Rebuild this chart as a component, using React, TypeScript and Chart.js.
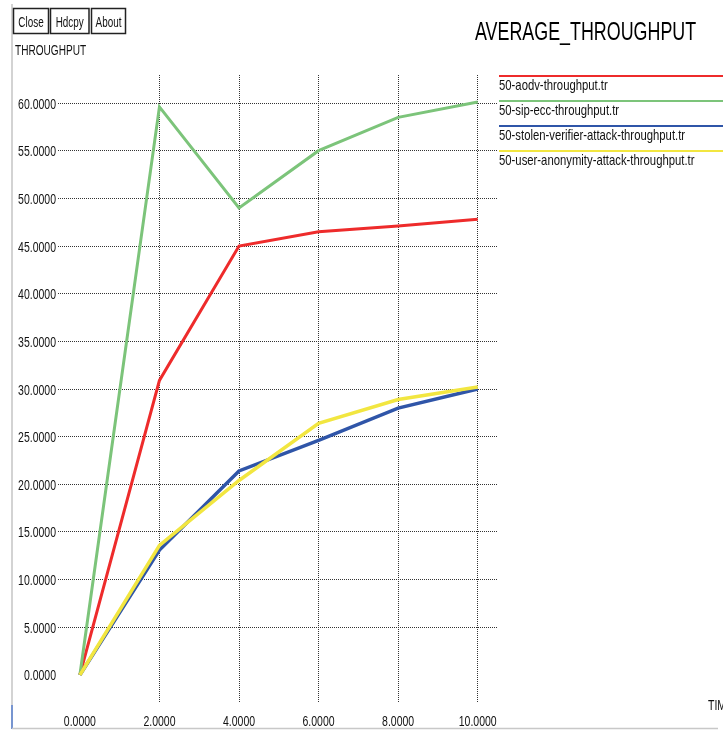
import React, { useEffect, useRef } from "react";
import { Chart, registerables } from "chart.js";

Chart.register(...registerables);

const xValues = [0, 2, 4, 6, 8, 10];
const xTicks = [0, 2, 4, 6, 8, 10];
const yTicks = [0, 5, 10, 15, 20, 25, 30, 35, 40, 45, 50, 55, 60];
const aodv = [0, 30.9, 45.0, 46.5, 47.1, 47.8];
const sipEcc = [0, 59.6, 49.0, 55.0, 58.5, 60.1];
const stolenVerifier = [0, 13.1, 21.4, 24.6, 28.0, 30.0];
const userAnonymity = [0, 13.6, 20.4, 26.4, 28.9, 30.2];
const seriesNames = [
  "50-aodv-throughput.tr",
  "50-sip-ecc-throughput.tr",
  "50-stolen-verifier-attack-throughput.tr",
  "50-user-anonymity-attack-throughput.tr",
];
const seriesColors = ["#ee2b2b", "#7cc47a", "#2f55a8", "#f2e640"];
const buttonLabels = ["Close", "Hdcpy", "About"];
const titleText = "AVERAGE_THROUGHPUT";
const yAxisTitle = "THROUGHPUT";
const xAxisTitle = "TIME";

const FAMILY = '"Liberation Sans", Arial, sans-serif';
const TICK_SIZE = 15;
const TICK_SX = 0.7;

function drawText(
  ctx: CanvasRenderingContext2D,
  text: string,
  x: number,
  y: number,
  size: number,
  align: "left" | "right" | "center",
  sx: number,
  color = "#111"
) {
  ctx.save();
  ctx.font = `${size}px ${FAMILY}`;
  ctx.fillStyle = color;
  ctx.textBaseline = "alphabetic";
  const w = ctx.measureText(text).width * sx;
  let left = x;
  if (align === "right") left = x - w;
  else if (align === "center") left = x - w / 2;
  ctx.translate(left, y);
  ctx.scale(sx, 1);
  ctx.textAlign = "left";
  ctx.fillText(text, 0, 0);
  ctx.restore();
}

const decorPlugin = {
  id: "decor",
  afterDraw(chart: any) {
    const ctx = chart.ctx as CanvasRenderingContext2D;
    ctx.save();
    // frame lines
    ctx.strokeStyle = "#c4c4c4";
    ctx.lineWidth = 1.5;
    ctx.beginPath();
    ctx.moveTo(12, 4);
    ctx.lineTo(12, 705);
    ctx.stroke();
    ctx.strokeStyle = "#4a72c0";
    ctx.beginPath();
    ctx.moveTo(12, 705);
    ctx.lineTo(12, 729);
    ctx.stroke();
    ctx.strokeStyle = "#c8c8c8";
    ctx.beginPath();
    ctx.moveTo(12, 728.5);
    ctx.lineTo(718, 728.5);
    ctx.stroke();

    // buttons
    const boxes = [
      [13.5, 8.5, 35, 25],
      [50.5, 8.5, 38.5, 25],
      [91.5, 8.5, 34, 25],
    ];
    buttonLabels.forEach((lab, i) => {
      const [bx, by, bw, bh] = boxes[i];
      ctx.strokeStyle = "#222";
      ctx.lineWidth = 1.5;
      ctx.strokeRect(bx, by, bw, bh);
      drawText(ctx, lab, bx + bw / 2, 26.5, 15, "center", 0.66);
    });

    // y axis title
    drawText(ctx, yAxisTitle, 15, 55, 14, "left", 0.72);

    // title (condensed)
    drawText(ctx, titleText, 475, 40, 25, "left", 0.715, "#000");

    // legend
    chart.data.datasets.forEach((ds: any, i: number) => {
      const ly = 76 + 25 * i;
      ctx.strokeStyle = ds.borderColor;
      ctx.lineWidth = 2;
      ctx.beginPath();
      ctx.moveTo(499, ly);
      ctx.lineTo(723, ly);
      ctx.stroke();
      drawText(ctx, seriesNames[i], 499, ly + 13.5, 14.5, "left", 0.78);
    });

    // tick labels
    const xs = chart.scales.x;
    const ys = chart.scales.y;
    xTicks.forEach((v) => {
      drawText(ctx, v.toFixed(4), xs.getPixelForValue(v), 726, TICK_SIZE, "center", TICK_SX);
    });
    yTicks.forEach((v) => {
      drawText(ctx, v.toFixed(4), 56, ys.getPixelForValue(v) + 5.5, TICK_SIZE, "right", TICK_SX);
    });

    // x axis title (clipped at window edge)
    drawText(ctx, xAxisTitle, 708, 710, 15, "left", 0.7);
    ctx.restore();
  },
};

export default function App() {
  const ref = useRef<HTMLCanvasElement | null>(null);
  useEffect(() => {
    if (!ref.current) return;
    const series = [aodv, sipEcc, stolenVerifier, userAnonymity];
    const widths = [3, 3, 3.5, 3.5];
    const orders = [3, 2, 1, 0];
    const chart = new Chart(ref.current, {
      type: "line",
      data: {
        datasets: series.map((vals, i) => ({
          label: seriesNames[i],
          data: vals.map((v, j) => ({ x: xValues[j], y: v })),
          borderColor: seriesColors[i],
          backgroundColor: seriesColors[i],
          borderWidth: widths[i],
          pointRadius: 0,
          tension: 0,
          fill: false,
          order: orders[i],
        })),
      },
      options: {
        responsive: false,
        animation: false,
        events: [],
        layout: { padding: { left: 0, top: 75, right: 226, bottom: 0 } },
        plugins: { legend: { display: false }, tooltip: { enabled: false }, title: { display: false } },
        scales: {
          x: {
            type: "linear",
            min: -0.55,
            max: 10.485,
            afterBuildTicks: (s: any) => {
              s.ticks = xTicks.map((v) => ({ value: v }));
            },
            afterFit: (s: any) => {
              s.height = 27;
            },
            grid: {
              color: (c: any) => (c.tick && c.tick.value === 0 ? "rgba(0,0,0,0)" : "#333"),
              lineWidth: 1,
              drawTicks: false,
            },
            border: { display: false, dash: [1, 1] },
            ticks: { display: false },
          },
          y: {
            type: "linear",
            min: -2.94,
            max: 62.94,
            afterBuildTicks: (s: any) => {
              s.ticks = yTicks.map((v) => ({ value: v }));
            },
            afterFit: (s: any) => {
              s.width = 58;
            },
            grid: {
              color: (c: any) => (c.tick && c.tick.value === 0 ? "rgba(0,0,0,0)" : "#333"),
              lineWidth: 1,
              drawTicks: false,
            },
            border: { display: false, dash: [1, 1] },
            ticks: { display: false },
          },
        },
      },
      plugins: [decorPlugin],
    });
    return () => chart.destroy();
  }, []);
  return (
    <div style={{ position: "absolute", left: 0, top: 0, width: 723, height: 730, background: "#fff" }}>
      <canvas ref={ref} width={723} height={730} />
    </div>
  );
}
